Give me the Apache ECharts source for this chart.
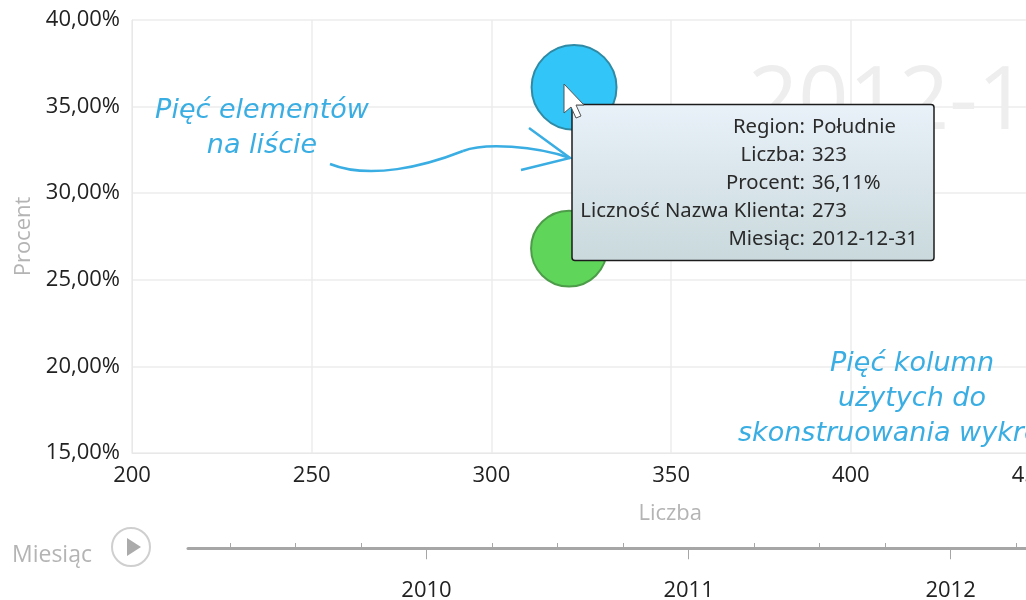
<!DOCTYPE html>
<html>
<head>
<meta charset="utf-8">
<style>
  html, body { margin: 0; padding: 0; overflow: hidden; background: #fff; }
  #chart { width: 1100px; height: 600px; }
</style>
<script src="https://cdn.jsdelivr.net/npm/echarts@6/dist/echarts.min.js"></script>
</head>
<body>
<div id="chart"></div>
<script>
// bubble values
const regions = ['Południe', 'Północ']
const liczba = [323, 321.6]
const procent = [36.11, 26.8]
const licznosc = [273, 218]
const bubbleColors = ['#31c6f7', '#5fd65a']
const bubbleBorders = ['#2f8aa6', '#4c9c49']

// timeline ticks
const yearTicks = [2010, 2011, 2012]
const quarterTicks = [2009.25, 2009.5, 2009.75, 2010.25, 2010.5, 2010.75, 2011.25, 2011.5, 2011.75, 2012.25, 2012.5]

// tooltip rows of the hovered bubble
const tipLabels = ['Region:', 'Liczba:', 'Procent:', 'Liczność Nazwa Klienta:', 'Miesiąc:']
const tipValues = ['Południe', '323', '36,11%', '273', '2012-12-31']

const uiFont = 'Open Sans'
const tipFont = 'Noto Sans'
const noteFont = 'DejaVu Sans'
const noteColor = '#3aaee3'
const axisGray = '#b4b4b4'

function note(text, x, y, align) {
  return {
    type: 'text', x: x, y: y, z: 20,
    style: { text: text, fill: noteColor, font: 'italic 27px ' + noteFont, textAlign: align, textVerticalAlign: 'middle' }
  }
}

const chart = echarts.init(document.getElementById('chart'), null, { renderer: 'canvas' })

const tipRows = []
tipLabels.forEach((label, i) => {
  const y = 127 + i * 28
  tipRows.push({ type: 'text', x: 805, y: y, z: 51, style: { text: label, fill: '#2a2a2a', font: '20.3px ' + tipFont, textAlign: 'right', textVerticalAlign: 'middle' } })
  tipRows.push({ type: 'text', x: 812, y: y, z: 51, style: { text: tipValues[i], fill: '#2a2a2a', font: '20.3px ' + tipFont, textAlign: 'left', textVerticalAlign: 'middle' } })
})

chart.setOption({
  animation: false,
  tooltip: { show: false },
  grid: [
    { left: 132, top: 20, width: 898.5, height: 433 },
    { left: 188, top: 548, width: 914, height: 1 }
  ],
  xAxis: [
    {
      gridIndex: 0, type: 'value', min: 200, max: 450, interval: 50,
      name: 'Liczba', nameLocation: 'middle', nameGap: 50,
      nameTextStyle: { color: axisGray, fontFamily: uiFont, fontSize: 22, padding: [0, 0, 0, 178] },
      axisLine: { show: true, lineStyle: { color: '#e8e8e8' } },
      axisTick: { show: false },
      axisLabel: { color: '#222', fontFamily: uiFont, fontSize: 22, margin: 12 },
      splitLine: { show: true, lineStyle: { color: '#ececec', width: 1.5 } }
    },
    {
      gridIndex: 1, type: 'value', min: 2009.09, max: 2012.57,
      axisLine: { show: true, lineStyle: { color: '#a6a6a6', width: 3 } },
      axisTick: { show: true, length: 11, lineStyle: { color: '#a6a6a6' }, customValues: yearTicks },
      axisLabel: {
        color: '#222', fontFamily: uiFont, fontSize: 22, margin: 31, customValues: yearTicks,
        formatter: (v) => String(v), showMinLabel: true, showMaxLabel: true
      },
      splitLine: { show: false }
    },
    {
      gridIndex: 1, type: 'value', min: 2009.09, max: 2012.57,
      axisLine: { show: false },
      axisTick: { show: true, length: 5, lineStyle: { color: '#a6a6a6' }, customValues: quarterTicks },
      axisLabel: { show: false },
      splitLine: { show: false }
    }
  ],
  yAxis: [
    {
      gridIndex: 0, type: 'value', min: 15, max: 40, interval: 5,
      name: 'Procent', nameLocation: 'middle', nameGap: 97,
      nameTextStyle: { color: axisGray, fontFamily: uiFont, fontSize: 22 },
      axisLine: { show: true, lineStyle: { color: '#e8e8e8' } },
      axisTick: { show: false },
      axisLabel: {
        color: '#222', fontFamily: uiFont, fontSize: 22, margin: 12, padding: [4, 0, 0, 0],
        formatter: (v) => v.toFixed(2).replace('.', ',') + '%'
      },
      splitLine: { show: true, lineStyle: { color: '#ececec', width: 1.5 } }
    },
    { gridIndex: 1, type: 'value', min: 0, max: 1, show: false }
  ],
  series: regions.map((name, i) => ({
    name: name,
    type: 'scatter',
    xAxisIndex: 0,
    yAxisIndex: 0,
    z: 5,
    data: [[liczba[i], procent[i], licznosc[i]]],
    symbolSize: (d) => Math.sqrt(d[2]) * 5.14,
    itemStyle: { color: bubbleColors[i], borderColor: bubbleBorders[i], borderWidth: 2, opacity: 1 }
  })),
  graphic: [
    // month watermark behind the bubbles
    { type: 'text', x: 748, y: 104, z: 1, silent: true,
      style: { text: '2012-12-31', fill: '#eeeeee', font: '88px ' + uiFont, textAlign: 'left', textVerticalAlign: 'middle' } },

    // timeline caption and play button
    { type: 'text', x: 12, y: 555, style: { text: 'Miesiąc', fill: axisGray, font: '23px ' + uiFont, textVerticalAlign: 'middle' } },
    { type: 'circle', shape: { cx: 131, cy: 547, r: 19 }, style: { fill: '#fff', stroke: '#cfcfcf', lineWidth: 2 } },
    { type: 'polygon', shape: { points: [[127, 538], [127, 556], [141, 547]] }, style: { fill: '#ababab' } },

    // annotations
    note('Pięć elementów', 262, 111, 'center'),
    note('na liście', 262, 146, 'center'),
    note('Pięć kolumn', 912, 364, 'center'),
    note('użytych do', 912, 399, 'center'),
    note('skonstruowania wykresu', 738, 434, 'left'),
    { type: 'bezierCurve', z: 20,
      shape: { x1: 330, y1: 164, cpx1: 370, cpy1: 180, cpx2: 425, cpy2: 166, x2: 463, y2: 151 },
      style: { fill: null, stroke: noteColor, lineWidth: 2.5 } },
    { type: 'bezierCurve', z: 20,
      shape: { x1: 463, y1: 151, cpx1: 485, cpy1: 142.6, cpx2: 535, cpy2: 146, x2: 570, y2: 158 },
      style: { fill: null, stroke: noteColor, lineWidth: 2.5 } },
    { type: 'polyline', z: 20,
      shape: { points: [[529, 128], [570, 158], [521, 170]] },
      style: { fill: null, stroke: noteColor, lineWidth: 2.5 } },

    // tooltip box
    { type: 'rect', z: 50, shape: { x: 572, y: 104.5, width: 362, height: 156, r: 3 },
      style: {
        stroke: '#1c1c1c', lineWidth: 1.5,
        fill: new echarts.graphic.LinearGradient(0, 0, 0, 1, [
          { offset: 0, color: '#e9f1f9' },
          { offset: 1, color: '#c9d9dc' }
        ])
      } },
    ...tipRows,

    // mouse pointer
    { type: 'polygon', z: 60,
      shape: { points: [[564, 84], [564, 113], [571, 107], [576, 118], [581, 116], [576, 105], [584, 105]] },
      style: { fill: '#fff', stroke: '#555', lineWidth: 1 } }
  ]
})
</script>
</body>
</html>
